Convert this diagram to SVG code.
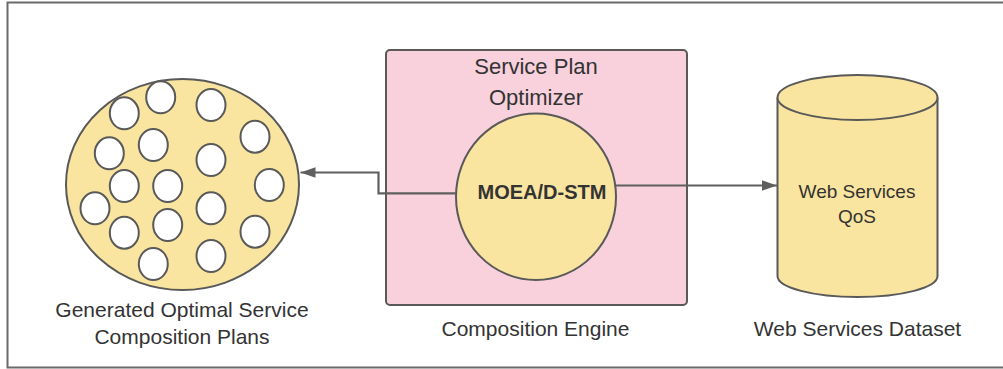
<svg xmlns="http://www.w3.org/2000/svg" width="1003" height="369" viewBox="0 0 1003 369">
<style>
  .txt{font-family:"Liberation Sans",Arial,sans-serif;fill:#333;text-anchor:middle}
  .lbl{font-size:21px}
  .shape{stroke:#595959;stroke-width:2}
  .yellow{fill:#fae5a0}
  .dot{fill:#ffffff;stroke:#595959;stroke-width:2}
  .conn{fill:none;stroke:#5f5f5f;stroke-width:2.2}
</style>
<defs>
  <marker id="arrow" markerUnits="userSpaceOnUse" markerWidth="16" markerHeight="12" viewBox="0 0 16 12" refX="15" refY="6" orient="auto">
    <path d="M0,0.8 L15,6 L0,11.2 Z" fill="#5f5f5f"/>
  </marker>
</defs>
<rect x="0" y="0" width="1003" height="369" fill="#ffffff"/>
<path d="M1003,2.5 H7.5 V367.5 H1003" fill="none" stroke="#6b6b6b" stroke-width="2"/>

<g id="plans">
  <ellipse cx="182.5" cy="184.5" rx="116.5" ry="105.5" class="shape yellow"/>
  <ellipse cx="124.3" cy="113.3" rx="14.5" ry="16" class="dot"/>
  <ellipse cx="160.7" cy="97.3" rx="14.5" ry="16" class="dot"/>
  <ellipse cx="211" cy="105" rx="14.5" ry="16" class="dot"/>
  <ellipse cx="255" cy="136.7" rx="14.5" ry="16" class="dot"/>
  <ellipse cx="109.3" cy="153.3" rx="14.5" ry="16" class="dot"/>
  <ellipse cx="153.3" cy="145" rx="14.5" ry="16" class="dot"/>
  <ellipse cx="211" cy="160" rx="14.5" ry="16" class="dot"/>
  <ellipse cx="269.3" cy="185" rx="14.5" ry="16" class="dot"/>
  <ellipse cx="124.3" cy="186" rx="14.5" ry="16" class="dot"/>
  <ellipse cx="167.7" cy="186" rx="14.5" ry="16" class="dot"/>
  <ellipse cx="95" cy="208.3" rx="14.5" ry="16" class="dot"/>
  <ellipse cx="211" cy="208.3" rx="14.5" ry="16" class="dot"/>
  <ellipse cx="124.3" cy="232.7" rx="14.5" ry="16" class="dot"/>
  <ellipse cx="167.7" cy="225" rx="14.5" ry="16" class="dot"/>
  <ellipse cx="255" cy="231.7" rx="14.5" ry="16" class="dot"/>
  <ellipse cx="153.3" cy="264" rx="14.5" ry="16" class="dot"/>
  <ellipse cx="211" cy="256" rx="14.5" ry="16" class="dot"/>
  <text class="txt lbl" x="182" y="317">Generated Optimal Service</text>
  <text class="txt lbl" x="182" y="343.5">Composition Plans</text>
</g>

<g id="engine">
  <rect x="386" y="50" width="301" height="255" rx="4" ry="4" fill="#f8d1dd" class="shape"/>
  <text class="txt" font-size="22" x="536" y="73.5">Service Plan</text>
  <text class="txt" font-size="22" x="536" y="105">Optimizer</text>
  <text class="txt lbl" x="535.5" y="336">Composition Engine</text>
</g>

<g id="moead">
  <ellipse cx="536" cy="196.7" rx="80" ry="83.3" class="shape yellow"/>
  <text class="txt" font-size="20" font-weight="bold" x="542" y="198.5">MOEA/D-STM</text>
</g>

<g id="dataset">
  <path d="M777.5,97.5 V276 A80,21 0 0 0 937.5,276 V97.5" class="shape yellow"/>
  <ellipse cx="857.5" cy="97.5" rx="80" ry="22.5" class="shape yellow"/>
  <text class="txt" font-size="19" x="857" y="198.3">Web Services</text>
  <text class="txt" font-size="19" x="857" y="223.3">QoS</text>
  <text class="txt lbl" x="857.5" y="335.7">Web Services Dataset</text>
</g>

<g id="connectors">
  <path class="conn" d="M456,193.3 H378.5 V172.5 H300.5" marker-end="url(#arrow)"/>
  <path class="conn" d="M616,185.5 H777" marker-end="url(#arrow)"/>
</g>
</svg>
